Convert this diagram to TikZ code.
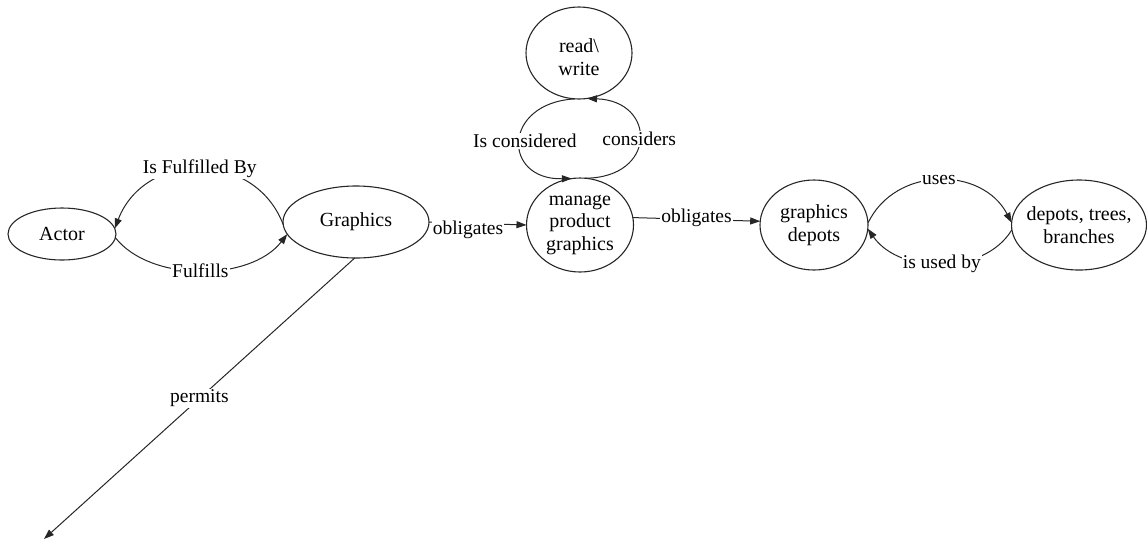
\documentclass[tikz,border=0pt]{standalone}
\usepackage{fontspec}
\setmainfont{LiberationSerif}[Extension=.ttf,UprightFont=*-Regular,BoldFont=*-Bold,ItalicFont=*-Italic]
\usetikzlibrary{shapes.geometric,arrows.meta}
\begin{document}
\begin{tikzpicture}[x=1pt,y=-1pt,
  concept/.style={ellipse,draw=black!85,line width=1.1pt,inner sep=0pt,outer sep=0pt},
  txt/.style={font=\fontsize{20}{22.5}\selectfont,align=center,inner sep=0pt},
  rel/.style={draw=black!85,line width=1pt,-{Triangle[length=10pt,width=7pt]}},
  lbl/.style={fill=white,inner sep=1pt,font=\fontsize{19.5}{22}\selectfont}]
\useasboundingbox (0,0) rectangle (1147,542);

% concepts
\node[concept,minimum width=108pt,minimum height=52pt,label={[txt]center:Actor}] (actor) at (62,234) {};
\node[concept,minimum width=146pt,minimum height=72pt,label={[txt]center:Graphics}] (graphics) at (356,222) {};
\node[concept,minimum width=106pt,minimum height=92pt,label={[txt,yshift=-4pt]center:read\textbackslash\\write}] (rw) at (579,53) {};
\node[concept,minimum width=107pt,minimum height=94pt,label={[txt]center:manage\\product\\graphics}] (manage) at (580,225) {};
\node[concept,minimum width=108pt,minimum height=90pt,label={[txt]center:graphics\\depots}] (gdep) at (814,225) {};
\node[concept,minimum width=135pt,minimum height=90pt,label={[txt]center:depots, trees,\\branches}] (dtb) at (1079,225) {};
\coordinate (pend) at (44,539);

% relations
\draw[rel] (graphics.182) .. controls (255,150) and (145,150) .. (actor.6)
  node[lbl,pos=0.5] {Is Fulfilled By};
\draw[rel] (actor.-4) .. controls (150,282) and (250,282) .. (graphics.190)
  node[lbl,pos=0.5] {Fulfills};
\draw[rel] (graphics.east) -- (manage.west)
  node[lbl,pos=0.4,yshift=-7pt] {obligates};
\draw[rel] (manage.8) -- (gdep.176)
  node[lbl,pos=0.5,yshift=2pt] {obligates};
\draw[rel] (rw.-95) .. controls (502,103) and (502,180) .. (manage.100)
  node[lbl,pos=0.5,xshift=5pt] {Is considered};
\draw[rel] (manage.84) .. controls (657,178) and (657,101) .. (rw.-80)
  node[lbl,pos=0.5] {considers};
\draw[rel] (gdep.2) .. controls (895,166) and (982,166) .. (dtb.178)
  node[lbl,pos=0.5] {uses};
\draw[rel] (dtb.184) .. controls (985,275) and (900,275) .. (gdep.-4)
  node[lbl,pos=0.5] {is used by};
\draw[rel] (graphics.-92) -- (pend)
  node[lbl,pos=0.5] {permits};
\end{tikzpicture}
\end{document}
